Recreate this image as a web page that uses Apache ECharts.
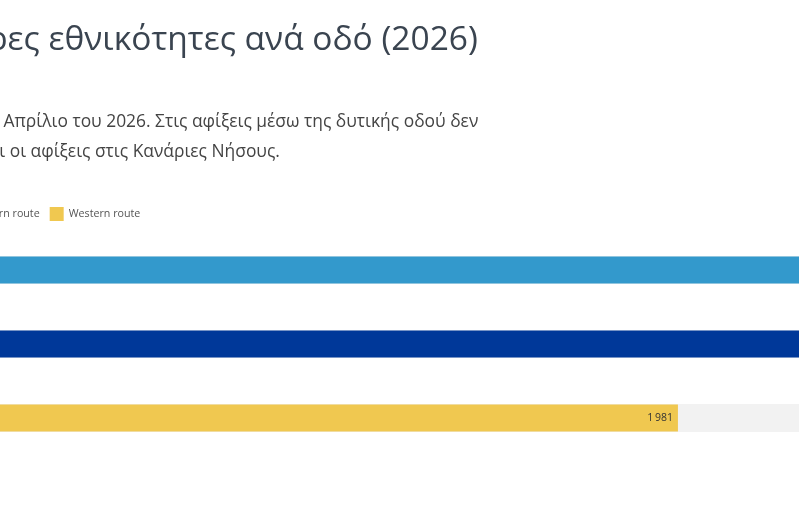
<!DOCTYPE html>
<html>
<head>
<meta charset="utf-8">
<script src="https://cdn.jsdelivr.net/npm/echarts@6/dist/echarts.min.js"></script>
<style>
html,body{margin:0;padding:0;width:799px;height:508px;overflow:hidden;background:#fff;position:relative;}
#chart{position:absolute;left:-152px;top:0;width:1260px;height:508px;}
</style>
</head>
<body>
<div id="chart"></div>
<script>
const titleText = 'Κυριότερες εθνικότητες ανά οδό (2026)';
const subtitleText = 'Στοιχεία έως τον Απρίλιο του 2026. Στις αφίξεις μέσω της δυτικής οδού δεν\nπεριλαμβάνονται οι αφίξεις στις Κανάριες Νήσους.';
const categories = ['Central route', 'Eastern route', 'Western route'];
const seriesNames = ['Central route', 'Eastern route', 'Western route'];
const values = [2950, 2600, 1981];
const colors = ['#3399cc', '#003899', '#f0c850'];
const axisMax = 2950;

const chart = echarts.init(document.getElementById('chart'), null, {renderer: 'canvas'});
const fmt = v => String(v).replace(/\B(?=(\d{3})+(?!\d))/g, '\u2009');
const series = seriesNames.map((name, i) => ({
  name: name,
  type: 'bar',
  barWidth: 27,
  barGap: '-100%',
  data: categories.map((c, j) => j === i ? values[i] : '-'),
  itemStyle: {color: colors[i]},
  showBackground: true,
  backgroundStyle: {color: '#f2f2f2'},
  label: {show: true, position: 'insideRight', distance: 5, fontSize: 10.5, color: '#333', fontFamily: 'Open Sans', formatter: p => fmt(p.value)},
  emphasis: {disabled: true},
  animation: false
}));
chart.setOption({
  animation: false,
  title: [
    {text: titleText, left: 10, top: 18, textStyle: {fontFamily: 'Open Sans', fontSize: 33.5, fontWeight: 'normal', color: '#3a4450'}},
    {text: subtitleText, left: 10, top: 102, textStyle: {fontFamily: 'Open Sans', fontSize: 17.4, fontWeight: 'normal', color: '#444', lineHeight: 30}}
  ],
  legend: {
    data: seriesNames, left: 5, top: 202, icon: 'rect', itemWidth: 14, itemHeight: 14, itemGap: 10,
    textStyle: {fontFamily: 'Open Sans', fontSize: 10.7, color: '#555'}
  },
  grid: {left: 10, top: 233, width: 1221, height: 222, containLabel: false},
  xAxis: {type: 'value', min: 0, max: axisMax, show: false},
  yAxis: {type: 'category', data: categories, inverse: true, show: false},
  series: series
});
</script>
</body>
</html>
